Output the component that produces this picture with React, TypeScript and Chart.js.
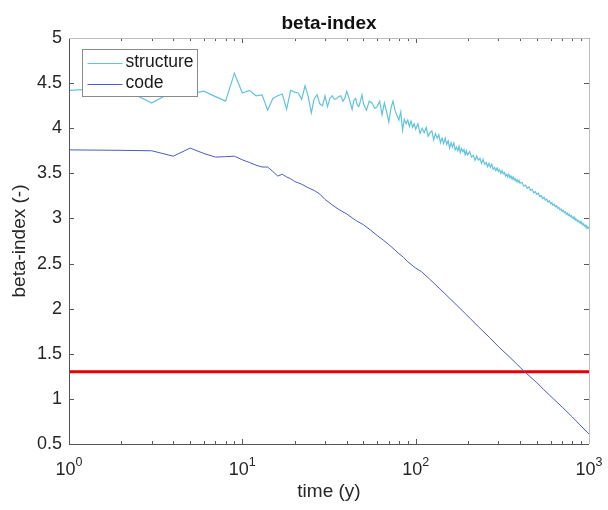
import React, { useEffect, useRef } from 'react';
import { Chart, registerables } from 'chart.js';

Chart.register(...registerables);

// ---------------- data ----------------
const structureT = [
  1, 2, 3, 4, 5, 6, 7, 8, 9, 10,
  11, 12, 13, 14, 15, 16, 17, 18, 19, 20,
  21, 22, 23, 24, 25, 26, 27, 28, 29, 30,
  31, 32, 33, 34, 35, 36, 37, 38, 39, 40,
  41, 42, 43, 44, 45, 46, 47, 48, 49, 50,
  52, 54, 56, 58, 60, 62, 64, 66, 68, 70,
  72, 74, 76, 78, 80, 82, 84, 86, 88, 90,
  92, 94, 96, 98,
  100, 103, 106, 109, 112, 115, 118, 121, 124, 127,
  130, 133, 136, 139, 142, 145, 148, 151, 154, 157,
  160, 163, 166, 169, 172, 175, 178, 181, 184, 187,
  190, 193, 196, 199,
  205, 210, 215, 220, 225, 230, 235, 240, 245, 250,
  255, 260, 265, 270, 275, 280, 285, 290, 295, 300,
  305, 310, 315, 320, 325, 330, 335, 340, 345, 350,
  355, 360, 365, 370, 375, 380, 385, 390, 395, 400,
  410, 420, 430, 440, 450, 460, 470, 480, 490, 500,
  510, 520, 530, 540, 550, 560, 570, 580, 590, 600,
  610, 620, 630, 640, 650, 660, 670, 680, 690, 700,
  710, 720, 730, 740, 750, 760, 770, 780, 790, 800,
  810, 820, 830, 840, 850, 860, 870, 880, 890, 900,
  910, 920, 930, 940, 950, 960, 970, 980, 990, 1000,
];
const structureBeta = [
  4.42, 4.45, 4.28, 4.41, 4.38, 4.41, 4.35, 4.30, 4.61, 4.39,
  4.42, 4.36, 4.37, 4.20, 4.33, 4.36, 4.38, 4.21, 4.42, 4.40,
  4.39, 4.32, 4.47, 4.35, 4.17, 4.33, 4.37, 4.27, 4.25, 4.36,
  4.24, 4.33, 4.36, 4.32, 4.33, 4.35, 4.36, 4.30, 4.33, 4.41,
  4.35, 4.28, 4.21, 4.31, 4.33, 4.26, 4.24, 4.30, 4.37, 4.27,
  4.20, 4.30, 4.28, 4.22, 4.24, 4.30, 4.15, 4.28, 4.18, 4.07,
  4.22, 4.30, 4.20, 4.14, 4.09, 4.18, 3.98, 4.10, 4.05, 4.09,
  4.02, 4.08, 4.01, 4.05,
  3.99, 4.05, 3.945, 4.00, 3.95, 4.01, 3.91, 3.95, 3.97, 3.87,
  3.94, 3.89, 3.93, 3.84, 3.89, 3.83, 3.89, 3.82, 3.86, 3.78,
  3.84, 3.79, 3.835, 3.76, 3.79, 3.75, 3.80, 3.73, 3.775, 3.74,
  3.765, 3.705, 3.75, 3.705,
  3.74, 3.68, 3.70, 3.645, 3.69, 3.645, 3.665, 3.61, 3.655, 3.60,
  3.62, 3.575, 3.61, 3.565, 3.60, 3.545, 3.565, 3.53, 3.56, 3.52,
  3.54, 3.50, 3.53, 3.495, 3.51, 3.47, 3.49, 3.46, 3.49, 3.45,
  3.47, 3.435, 3.46, 3.427, 3.443, 3.41, 3.43, 3.40, 3.42, 3.39,
  3.40, 3.358, 3.37, 3.335, 3.35, 3.312, 3.323, 3.285, 3.297, 3.266,
  3.279, 3.242, 3.252, 3.22, 3.235, 3.203, 3.213, 3.182, 3.195, 3.165,
  3.175, 3.145, 3.157, 3.129, 3.14, 3.113, 3.123, 3.095, 3.105, 3.079,
  3.091, 3.064, 3.075, 3.048, 3.059, 3.034, 3.045, 3.021, 3.031, 3.006,
  3.016, 2.993, 3.003, 2.979, 2.989, 2.967, 2.976, 2.954, 2.964, 2.941,
  2.951, 2.929, 2.939, 2.917, 2.926, 2.906, 2.915, 2.894, 2.902, 2.886,
];

const codeT = [
  1, 2, 3, 4, 5, 6, 7, 8, 9, 10,
  11, 12, 13, 14, 15, 16, 17, 18, 19, 20,
  22, 24, 26, 28, 30, 33, 36, 40, 45, 50,
  55, 60, 65, 70, 75, 80, 85, 90, 100, 108,
  120, 138, 160, 197, 230, 267, 300, 350, 400, 437,
  500, 550, 624, 700, 800, 900, 1000,
];
const codeBeta = [
  3.76, 3.755, 3.75, 3.69, 3.78, 3.72, 3.68, 3.685, 3.69, 3.65,
  3.62, 3.59, 3.57, 3.57, 3.52, 3.47, 3.49, 3.46, 3.44, 3.41,
  3.38, 3.34, 3.31, 3.27, 3.21, 3.15, 3.10, 3.05, 2.98, 2.93,
  2.87, 2.81, 2.76, 2.71, 2.66, 2.61, 2.57, 2.52, 2.45, 2.41,
  2.33, 2.22, 2.10, 1.93, 1.80, 1.68, 1.58, 1.46, 1.35, 1.28,
  1.18, 1.10, 1.00, 0.91, 0.80, 0.70, 0.61,
];

const thresholdT = [1, 1000];
const thresholdBeta = [1.3, 1.3];

const seriesLabels = ['structure', 'code'];
const yTicks = [0.5, 1, 1.5, 2, 2.5, 3, 3.5, 4, 4.5, 5];
const yTickLabels = ['0.5', '1', '1.5', '2', '2.5', '3', '3.5', '4', '4.5', '5'];
const xDecades = [1, 10, 100, 1000];
const xTickBase = '10';
const xTickExponents = ['0', '1', '2', '3'];
const chartTitle = 'beta-index';
const xTitle = 'time (y)';
const yTitle = 'beta-index (-)';

// ---------------- styles ----------------
const FONT = '"Liberation Sans", Arial, Helvetica, sans-serif';
const TEXT = '#262626';
const STRUCT_COLOR = '#62c3dc';
const CODE_COLOR = '#4a5cc0';
const RED = '#e60000';

const toPoints = (xs: number[], ys: number[]) => xs.map((x, i) => ({ x, y: ys[i] }));

const axesPlugin = {
  id: 'matlabAxes',
  afterDraw(chart: any) {
    const { ctx, chartArea } = chart;
    const { left, right, top, bottom } = chartArea;
    const xs = chart.scales.x;
    const ys = chart.scales.y;
    ctx.save();
    ctx.lineWidth = 1;
    ctx.strokeStyle = '#5a5a5a';
    ctx.beginPath();
    yTicks.forEach((v) => {
      const py = Math.round(ys.getPixelForValue(v)) + 0.5;
      ctx.moveTo(left, py);
      ctx.lineTo(left + 5, py);
      ctx.moveTo(right, py);
      ctx.lineTo(right - 5, py);
    });
    xDecades.forEach((d, i) => {
      const px = Math.round(xs.getPixelForValue(d)) + 0.5;
      ctx.moveTo(px, bottom);
      ctx.lineTo(px, bottom - 5);
      ctx.moveTo(px, top);
      ctx.lineTo(px, top + 5);
      if (i < xDecades.length - 1) {
        for (let m = 2; m <= 9; m++) {
          const mp = Math.round(xs.getPixelForValue(d * m)) + 0.5;
          ctx.moveTo(mp, bottom);
          ctx.lineTo(mp, bottom - 3);
          ctx.moveTo(mp, top);
          ctx.lineTo(mp, top + 3);
        }
      }
    });
    ctx.stroke();

    // box: left & bottom dark, top & right light
    ctx.strokeStyle = '#555555';
    ctx.beginPath();
    ctx.moveTo(Math.round(left) + 0.5, top);
    ctx.lineTo(Math.round(left) + 0.5, Math.round(bottom) + 0.5);
    ctx.lineTo(right, Math.round(bottom) + 0.5);
    ctx.stroke();
    ctx.strokeStyle = '#bdbdbd';
    ctx.beginPath();
    ctx.moveTo(left, Math.round(top) + 0.5);
    ctx.lineTo(Math.round(right) + 0.5, Math.round(top) + 0.5);
    ctx.lineTo(Math.round(right) + 0.5, bottom);
    ctx.stroke();

    // x tick labels: 10 with superscript exponent
    ctx.fillStyle = TEXT;
    ctx.textAlign = 'left';
    ctx.textBaseline = 'alphabetic';
    xDecades.forEach((d, i) => {
      const px = xs.getPixelForValue(d);
      ctx.font = `18px ${FONT}`;
      const w1 = ctx.measureText(xTickBase).width;
      ctx.font = `12.5px ${FONT}`;
      const w2 = ctx.measureText(xTickExponents[i]).width;
      const x0 = px - (w1 + w2) / 2;
      ctx.font = `18px ${FONT}`;
      ctx.fillText(xTickBase, x0, bottom + 31);
      ctx.font = `12.5px ${FONT}`;
      ctx.fillText(xTickExponents[i], x0 + w1, bottom + 21.5);
    });

    // legend
    const lx = Math.round(left) + 13 + 0.5;
    const ly = Math.round(top) + 11 + 0.5;
    const lw = 115;
    const lh = 47;
    ctx.fillStyle = '#ffffff';
    ctx.fillRect(lx, ly, lw, lh);
    ctx.strokeStyle = '#8a8a8a';
    ctx.strokeRect(lx, ly, lw, lh);
    const colors = [STRUCT_COLOR, CODE_COLOR];
    ctx.font = `17.5px ${FONT}`;
    ctx.textBaseline = 'middle';
    ctx.textAlign = 'left';
    seriesLabels.forEach((lab, i) => {
      const yy = ly + 13 + i * 21;
      ctx.strokeStyle = colors[i];
      ctx.beginPath();
      ctx.moveTo(lx + 5, Math.round(yy) + 0.5);
      ctx.lineTo(lx + 40, Math.round(yy) + 0.5);
      ctx.stroke();
      ctx.fillStyle = '#1a1a1a';
      ctx.fillText(lab, lx + 43, yy);
    });
    ctx.restore();
  },
};

export default function App() {
  const ref = useRef<HTMLCanvasElement | null>(null);

  useEffect(() => {
    if (!ref.current) return;
    const chart = new Chart(ref.current, {
      type: 'line',
      data: {
        datasets: [
          {
            label: seriesLabels[0],
            data: toPoints(structureT, structureBeta),
            borderColor: STRUCT_COLOR,
            borderWidth: 1.2,
            pointRadius: 0,
            tension: 0,
            fill: false,
          },
          {
            label: seriesLabels[1],
            data: toPoints(codeT, codeBeta),
            borderColor: CODE_COLOR,
            borderWidth: 1,
            pointRadius: 0,
            tension: 0,
            fill: false,
          },
          {
            label: 'limit',
            data: toPoints(thresholdT, thresholdBeta),
            borderColor: RED,
            borderWidth: 3,
            pointRadius: 0,
            tension: 0,
            fill: false,
          },
        ],
      },
      options: {
        animation: false,
        responsive: false,
        maintainAspectRatio: false,
        events: [],
        layout: { padding: { left: 0, right: 19, top: 0, bottom: 0 } },
        font: { family: FONT },
        plugins: {
          legend: { display: false },
          tooltip: { enabled: false },
          title: {
            display: true,
            fullSize: false,
            text: chartTitle,
            color: '#111111',
            font: { family: FONT, size: 19, weight: 'bold' },
            padding: { top: 12, bottom: 3.2 },
          },
        },
        scales: {
          x: {
            type: 'logarithmic',
            position: 'bottom',
            min: 1,
            max: 1000,
            grid: { display: false, drawTicks: false },
            border: { display: false },
            afterBuildTicks: (s: any) => {
              s.ticks = xDecades.map((v) => ({ value: v, major: true }));
            },
            afterFit: (s: any) => {
              s.height = 66;
            },
            ticks: {
              display: false,
            },
            title: {
              display: true,
              text: xTitle,
              color: TEXT,
              font: { family: FONT, size: 19 },
              padding: { top: 0, bottom: 7 },
            },
          },
          y: {
            type: 'linear',
            position: 'left',
            min: 0.5,
            max: 5,
            grid: { display: false, drawTicks: false },
            border: { display: false },
            afterBuildTicks: (s: any) => {
              s.ticks = yTicks.map((v) => ({ value: v }));
            },
            afterFit: (s: any) => {
              s.width = 69;
            },
            ticks: {
              autoSkip: false,
              padding: 7,
              color: TEXT,
              font: { family: FONT, size: 18 },
              callback: (value: any) => {
                const i = yTicks.indexOf(Number(value));
                return i >= 0 ? yTickLabels[i] : '';
              },
            },
            title: {
              display: true,
              text: yTitle,
              color: TEXT,
              font: { family: FONT, size: 19 },
              padding: { top: 8.6, bottom: 0 },
            },
          },
        },
      } as any,
      plugins: [axesPlugin],
    });
    return () => chart.destroy();
  }, []);

  return (
    <div style={{ position: 'fixed', left: 0, top: 0, width: 608, height: 510, background: '#ffffff' }}>
      <canvas ref={ref} width={608} height={510} style={{ display: 'block', width: 608, height: 510 }} />
    </div>
  );
}
